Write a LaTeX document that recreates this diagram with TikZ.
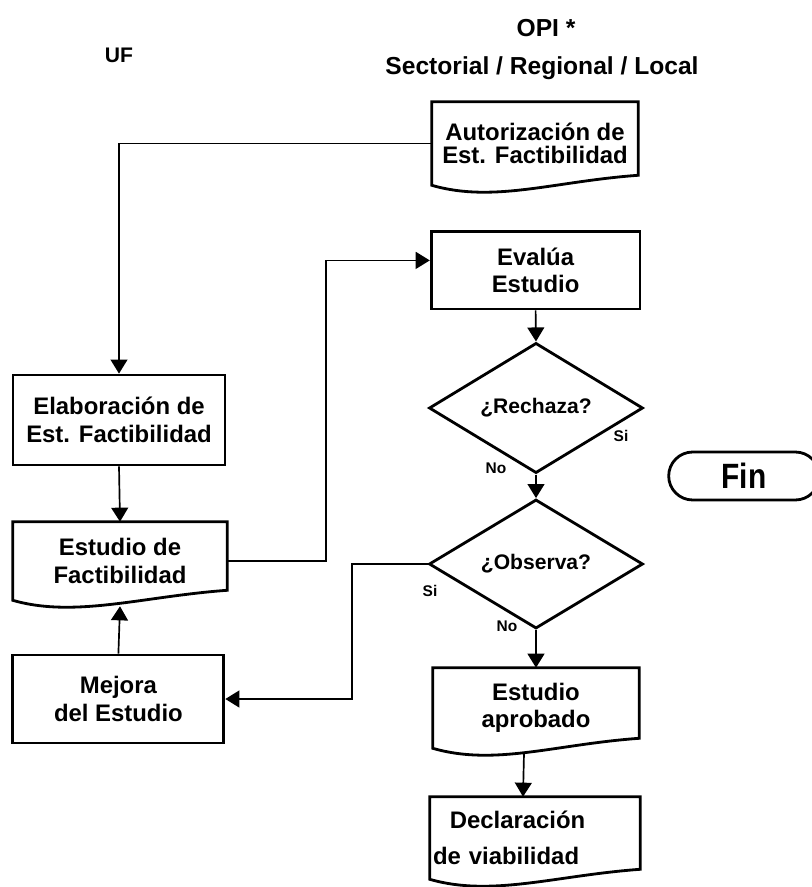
\documentclass[tikz,border=0pt]{standalone}
\usepackage{fontspec}
\setmainfont{Liberation Sans}
\newfontfamily\narrowfont{Liberation Sans}[FakeStretch=0.85]
\usetikzlibrary{shapes.geometric,shapes.misc,arrows.meta}

% outline of a document symbol around a (undrawn) node
\newcommand{\docoutline}[1]{%
  \draw[line width=2pt] (#1.south west) -- (#1.north west) -- (#1.north east) -- ([yshift=0.25cm]#1.south east)
    .. controls +(-2.1,-0.15) and +(1.55,-0.45) .. (#1.south west) -- cycle;}

\begin{document}
\begin{tikzpicture}[
    box/.style={draw, line width=2pt, minimum width=5.25cm, minimum height=2.1cm, align=center, inner sep=1pt, font=\bfseries\fontsize{17}{19.5}\selectfont},
    doc/.style={minimum width=5.2cm, minimum height=2cm, align=center, inner sep=1pt, font=\bfseries\fontsize{17}{19.5}\selectfont},
    decision/.style={diamond, draw, line width=2pt, minimum width=5.35cm, minimum height=2.8cm, inner sep=0pt, font=\bfseries\fontsize{15}{17}\selectfont},
    term/.style={rounded rectangle, draw, line width=2pt, minimum width=4cm, minimum height=1.2cm, font=\narrowfont\bfseries\fontsize{25}{28}\selectfont},
    arrow/.style={-{Triangle[width=12pt,length=10pt]}, line width=1.2pt},
    lbl/.style={font=\bfseries\fontsize{11}{12}\selectfont},
    head/.style={anchor=base, font=\bfseries\fontsize{17.5}{20}\selectfont}
]
    \useasboundingbox (0,0) rectangle (20.3,-22.175);

    % headings
    \node[head, font=\bfseries\fontsize{15}{17}\selectfont] (uf) at (2.975,-1.575) {UF};
    \node[head] (opi) at (13.65,-0.925) {OPI *};
    \node[head] (sect) at (13.55,-1.875) {Sectorial / Regional / Local};

    % OPI column
    \node[doc, minimum width=5.15cm, minimum height=2.075cm, font=\bfseries\fontsize{17}{16.5}\selectfont] (autor) at (13.375,-3.5875) {Autorización de\\Est. Factibilidad};
    \node[box, minimum width=5.22cm, minimum height=1.93cm] (evalua) at (13.39,-6.76) {Evalúa\\Estudio};
    \node[decision] (rechaza) at (13.4,-10.2) {¿Rechaza?};
    \node[decision] (observa) at (13.4,-14.1) {¿Observa?};
    \node[doc, minimum width=5.15cm] (aprob) at (13.4,-17.7) {Estudio\\aprobado};
    \node[doc, minimum width=5.25cm, minimum height=2.05cm, text width=5.1cm, align=left, font=\bfseries\fontsize{17}{26}\selectfont] (decl) at (13.375,-20.95) {\hspace*{0.42cm}Declaración\\de viabilidad};
    \node[term] (fin) at (18.6,-11.9) {Fin};

    % UF column
    \node[box, minimum width=5.3cm, minimum height=2.25cm] (elab) at (2.975,-10.5) {Elaboración de\\Est. Factibilidad};
    \node[doc, minimum width=5.35cm, minimum height=1.95cm] (estudio) at (3.0,-14.025) {Estudio de\\Factibilidad};
    \node[box, minimum width=5.275cm, minimum height=2.2cm] (mejora) at (2.96,-17.475) {Mejora\\del Estudio};

    \docoutline{autor}
    \docoutline{aprob}
    \docoutline{decl}
    \docoutline{estudio}

    % branch labels
    \node[lbl] (siR) at (15.525,-10.9) {Si};
    \node[lbl] (noR) at (12.4,-11.7) {No};
    \node[lbl] (siO) at (10.75,-14.775) {Si};
    \node[lbl] (noO) at (12.675,-15.65) {No};

    \coordinate (bend1) at (8.15,0);
    \coordinate (bend2) at (8.8,0);

    \draw[arrow] (autor.west) -| (elab.north);
    \draw[arrow] (elab.south) -- (estudio.north);
    \draw[arrow] (mejora.north) -- ([yshift=-0.15cm]estudio.south);
    \draw[arrow] (estudio.east) -- (estudio.east -| bend1) |- ([yshift=0.25cm]evalua.west);
    \draw[arrow] (evalua.south) -- (rechaza.north);
    \draw[arrow] (rechaza.south) -- (observa.north);
    \draw[arrow] (observa.west) -- (observa.west -| bend2) |- (mejora.east);
    \draw[arrow] (observa.south) -- (aprob.north);
    \draw[arrow] ([xshift=-0.3cm,yshift=-0.12cm]aprob.south) -- ([xshift=-0.3cm]decl.north);
\end{tikzpicture}
\end{document}
